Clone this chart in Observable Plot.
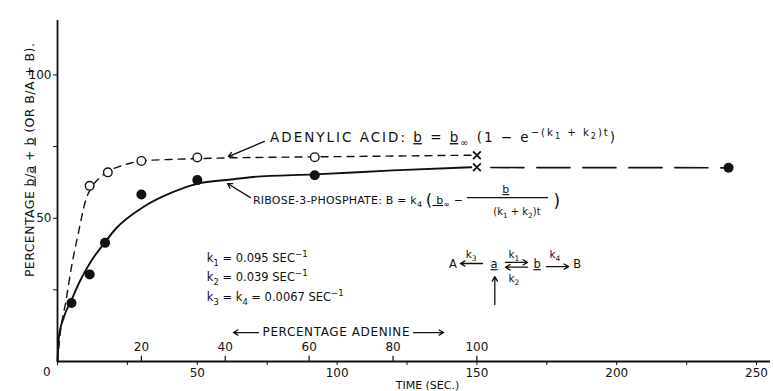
<!DOCTYPE html>
<html><head><meta charset="utf-8">
<script src="https://cdn.jsdelivr.net/npm/d3@7"></script>
<script src="https://cdn.jsdelivr.net/npm/@observablehq/plot@0.6"></script>
<style>body{margin:0;background:#fff} svg{display:block;background:#fff}</style>
</head><body><div id="chart"></div>
<script>
// ---- data ----
const adenylicTime = [11.5, 18, 30, 50, 92];
const adenylicPct  = [61.3, 66, 70, 71.2, 71.3];
const riboseTime   = [5, 11.5, 17, 30, 50, 92, 240];
const ribosePct    = [20.4, 30.4, 41.4, 58.3, 63.3, 65, 67.6];
const adenylicCurveT = [0, 1, 3, 5, 7.5, 10, 12, 15, 18, 22, 26, 30, 40, 50, 70, 90, 120, 148];
const adenylicCurveV = [0, 10, 21, 33, 45, 56, 60.5, 64, 66.3, 68, 69.2, 70, 70.5, 70.8, 71.2, 71.4, 71.7, 72];
const riboseCurveT = [0, 0.5, 2.3, 5, 8, 12, 16.5, 21, 30, 41, 50, 62, 70, 92, 120, 148];
const riboseCurveV = [0, 8.5, 15.5, 21.5, 28, 35, 41, 46.5, 53.5, 59, 62, 63.5, 64.4, 65.3, 66.7, 67.8];
const extrapT = [155, 240];
const extrapV = [67.7, 67.6];
const endMarkT = [150, 150];
const endMarkV = [72, 67.8];
const timeTicks  = [0, 25, 50, 75, 100, 125, 150, 175, 200, 225, 250];
const timeLabels = [50, 100, 150, 200, 250];
const pctTicks   = [25, 50, 75, 100];
const pctLabels  = [50, 100];
const adenineTicks = [20, 40, 60, 80, 100];
const adenineToTime = 1.5;

const FONT = "DejaVu Sans, Liberation Sans, sans-serif";
const INK = "#111";

const zip = (a, b) => a.map((d, i) => ({t: d, v: b[i]}));
const adenylicPts = zip(adenylicTime, adenylicPct);
const ribosePts = zip(riboseTime, ribosePct);
const adenylicCurve = zip(adenylicCurveT, adenylicCurveV);
const riboseCurve = zip(riboseCurveT, riboseCurveV);
const extrap = zip(extrapT, extrapV);
const endMarks = zip(endMarkT, endMarkV);

// rich text annotations: parts [text, kind]; kind: "", "sub", "sup", "supsub", "u", "big"
const richItems = [
  {t: -8.4, v: 70.1, size: 12.5, anchor: "middle", rotate: -90, len: 234,
   parts: [["PERCENTAGE ", ""], ["b", "u"], ["/", ""], ["a", "u"], [" + ", ""], ["b", "u"], [" (OR B/A + B).", ""]]},
  {t: 76.2, v: 76.4, size: 13.5, anchor: "start", len: 345,
   parts: [["ADENYLIC ACID: ", ""], ["b", "u"], [" = ", ""], ["b", "u"], ["∞", "sub"], [" (1 − e", ""], ["−(k", "sup"], ["1", "supsub"], [" + k", "sup"], ["2", "supsub"], [")t", "sup"], [")", ""]]},
  {t: 70.1, v: 54.8, size: 11, anchor: "start", len: 210,
   parts: [["RIBOSE-3-PHOSPHATE: B = k", ""], ["4", "sub"], [" ", ""], ["(", "big"], [" b", "u"], ["∞", "sub"], [" −", ""]]},
  {t: 160.5, v: 58.6, size: 11, anchor: "middle", parts: [["b", "u"]]},
  {t: 164.5, v: 50.9, size: 10, anchor: "middle", parts: [["(k", ""], ["1", "sub"], [" + k", ""], ["2", "sub"], [")t", ""]]},
  {t: 178.8, v: 53.9, size: 17, anchor: "middle", parts: [[")", ""]]},
  {t: 53.6, v: 34.5, size: 11.5, anchor: "start", parts: [["k", ""], ["1", "sub"], [" = 0.095 SEC", ""], ["−1", "sup"]]},
  {t: 53.6, v: 27.9, size: 11.5, anchor: "start", parts: [["k", ""], ["2", "sub"], [" = 0.039 SEC", ""], ["−1", "sup"]]},
  {t: 53.6, v: 20.9, size: 11.5, anchor: "start", parts: [["k", ""], ["3", "sub"], [" = k", ""], ["4", "sub"], [" = 0.0067 SEC", ""], ["−1", "sup"]]},
  {t: 141.6, v: 32.4, size: 11.5, anchor: "middle", parts: [["A", ""]]},
  {t: 148.1, v: 35.9, size: 10.5, anchor: "middle", parts: [["k", ""], ["3", "sub"]]},
  {t: 156.3, v: 32.4, size: 11.5, anchor: "middle", parts: [["a", "u"]]},
  {t: 163.4, v: 35.9, size: 10.5, anchor: "middle", parts: [["k", ""], ["1", "sub"]]},
  {t: 163.4, v: 27.6, size: 10.5, anchor: "middle", parts: [["k", ""], ["2", "sub"]]},
  {t: 171.7, v: 32.4, size: 11.5, anchor: "middle", parts: [["b", "u"]]},
  {t: 178.1, v: 35.9, size: 10.5, anchor: "middle", parts: [["k", ""], ["4", "sub"]]},
  {t: 186.0, v: 32.4, size: 11.5, anchor: "middle", parts: [["B", ""]]},
  {t: 99.8, v: 8.7, size: 12, anchor: "middle", len: 147, parts: [["PERCENTAGE ADENINE", ""]]},
  {t: 132.5, v: -9.9, size: 11, anchor: "middle", parts: [["TIME (SEC.)", ""]]},
  {t: -3.6, v: -5.2, size: 12, anchor: "middle", parts: [["0", ""]]}
];

function richText(items) {
  return (index, scales) => {
    const g = d3.create("svg:g").attr("font-family", FONT).attr("fill", INK);
    for (const it of items) {
      const x = scales.x(it.t), y = scales.y(it.v);
      const txt = g.append("text").attr("x", x).attr("y", y)
        .attr("font-size", it.size).attr("text-anchor", it.anchor);
      if (it.len) txt.attr("textLength", it.len).attr("lengthAdjust", "spacing");
      if (it.rotate) txt.attr("transform", `rotate(${it.rotate} ${x} ${y})`);
      let shift = 0;
      for (const [s, kind] of it.parts) {
        let target = 0, fs = it.size;
        if (kind === "sub") { target = it.size * 0.3; fs = it.size * 0.72; }
        if (kind === "sup") { target = -it.size * 0.45; fs = it.size * 0.75; }
        if (kind === "supsub") { target = -it.size * 0.2; fs = it.size * 0.6; }
        if (kind === "big") { target = it.size * 0.12; fs = it.size * 1.5; }
        const ts = txt.append("tspan").text(s).attr("font-size", fs);
        if (target !== shift) { ts.attr("dy", target - shift); shift = target; }
        if (kind === "u") ts.attr("text-decoration", "underline");
      }
    }
    return g.node();
  };
}

const arrows = [
  {t1: 74, v1: 76.8, t2: 61.1, v2: 71.5},
  {t1: 69, v1: 57.2, t2: 60.8, v2: 62.1},
  {t1: 71.9, v1: 10.1, t2: 62.9, v2: 10.1},
  {t1: 127.3, v1: 10.1, t2: 138.1, v2: 10.1},
  {t1: 152.0, v1: 34.2, t2: 144.1, v2: 34.2},
  {t1: 160.2, v1: 34.6, t2: 168.1, v2: 34.6},
  {t1: 168.1, v1: 32.9, t2: 160.2, v2: 32.9},
  {t1: 174.9, v1: 33.1, t2: 182.8, v2: 33.1},
  {t1: 156.4, v1: 19.9, t2: 156.4, v2: 29.6}
];

const chart = Plot.plot({
  width: 773, height: 391,
  marginLeft: 57, marginRight: 3, marginTop: 20, marginBottom: 30,
  x: {domain: [0, 255], axis: null},
  y: {domain: [0, 119], axis: null},
  style: {fontFamily: FONT, fontSize: "12px", color: INK, background: "#fff"},
  marks: [
    Plot.ruleX([0], {y1: 0, y2: 119, stroke: INK, strokeWidth: 1.8}),
    Plot.ruleY([0], {x1: 0, x2: 255, stroke: INK, strokeWidth: 1.8}),
    Plot.axisX(timeTicks, {tickSize: 4, tickPadding: 3, fontSize: 12,
      tickFormat: d => timeLabels.includes(d) ? String(d) : "", stroke: INK, fill: INK}),
    Plot.axisY(pctTicks, {tickSize: 4, tickPadding: 2, fontSize: 12,
      tickFormat: d => pctLabels.includes(d) ? String(d) : "", stroke: INK, fill: INK}),
    Plot.ruleX(adenineTicks, {x: d => d * adenineToTime, y1: 0, y2: 1.8, stroke: INK, strokeWidth: 1.2}),
    Plot.text(adenineTicks, {x: d => d * adenineToTime, y: 0, dy: -14, text: d => String(d), fontSize: 12, fill: INK}),
    Plot.line(adenylicCurve, {x: "t", y: "v", stroke: INK, strokeWidth: 1.4, strokeDasharray: "7,6", curve: "monotone-x"}),
    Plot.line(riboseCurve, {x: "t", y: "v", stroke: INK, strokeWidth: 1.9, curve: "monotone-x"}),
    Plot.line(extrap, {x: "t", y: "v", stroke: INK, strokeWidth: 1.7, strokeDasharray: "33,13"}),
    Plot.dot(adenylicPts, {x: "t", y: "v", r: 4.3, stroke: INK, strokeWidth: 1.4, fill: "#fff"}),
    Plot.dot(ribosePts, {x: "t", y: "v", r: 5, fill: INK, stroke: "none"}),
    Plot.dot(endMarks, {x: "t", y: "v", symbol: "times", r: 3.6, stroke: INK, strokeWidth: 1.7}),
    Plot.ruleY([0], {x1: 146.6, x2: 175.6, y: 57.2, stroke: INK, strokeWidth: 1.1}),
    Plot.arrow(arrows, {x1: "t1", y1: "v1", x2: "t2", y2: "v2", stroke: INK, strokeWidth: 1.3, headLength: 6, bend: 0}),
    richText(richItems)
  ]
});
document.getElementById("chart").appendChild(chart);
</script>
</body></html>
